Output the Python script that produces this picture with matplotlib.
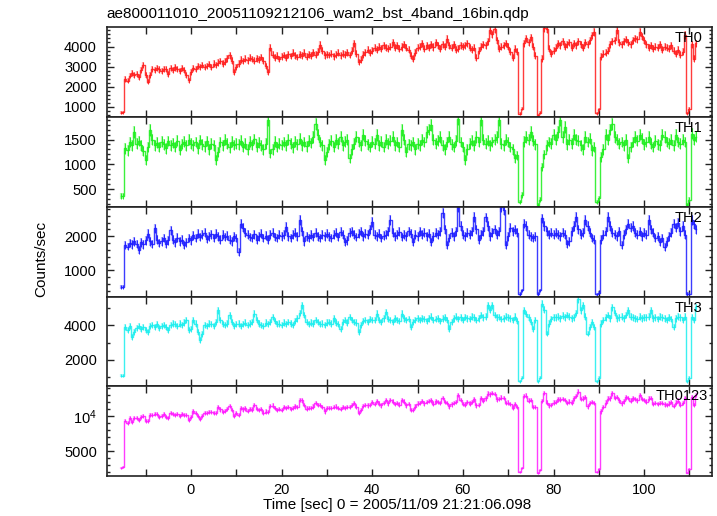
import numpy as np
import matplotlib
matplotlib.use('Agg')
import matplotlib.pyplot as plt
from matplotlib.ticker import MultipleLocator, FixedLocator, FixedFormatter

plt.rcParams['font.family'] = ['Liberation Sans', 'DejaVu Sans']
plt.rcParams['mathtext.fontset'] = 'custom'
plt.rcParams['mathtext.rm'] = 'Liberation Sans'

# bin centres (0.5 s bins) from -15.5 s to 111.5 s
t_start = -15.5
dt = 0.5
# effective exposure per bin used for the Poisson error bars
expo = 0.125

# count rates, one line per 10 s
th0 = [720, 730, 2400, 2310, 2560, 2700, 2580, 2640, 2480, 2850, 3080, 2600,
       2250, 2600, 2880, 2820, 2930, 2860, 2780, 2900, 2870, 2640, 2920, 2850, 2960, 2880, 2790, 2930, 2850, 2600, 2320, 2750,
       2950, 2880, 3020, 2970, 3080, 2990, 3050, 3120, 3000, 3150, 3080, 3200, 3280, 3150, 3250, 3420, 3570, 3300, 2730, 3000,
       3150, 3350, 3280, 3400, 3310, 3450, 3380, 3300, 3420, 3350, 3480, 3300, 3050, 2730, 3950, 3600, 3450, 3550, 3380, 3500,
       3580, 3450, 3620, 3530, 3700, 3560, 3480, 3620, 3550, 3680, 3500, 3610, 3540, 3720, 3600, 3750, 4070, 3800, 3560, 3620,
       3580, 3650, 3520, 3600, 3700, 3560, 3650, 3600, 3720, 3580, 3800, 4150, 3650, 3230, 3350, 3600, 3720, 3850, 3700, 3800,
       3950, 3850, 4000, 3900, 4050, 3950, 3880, 4000, 4200, 3950, 4050, 3900, 3980, 4100, 3950, 3850, 3550, 3400, 3700, 3950,
       4000, 4150, 3900, 4050, 3950, 4100, 3980, 4200, 4050, 3900, 4100, 4000, 4380, 4050, 3950, 4100, 3850, 3900, 4050, 4000,
       4050, 4150, 3950, 3850, 3950, 3450, 3800, 4000, 4100, 4050, 4250, 4800, 4600, 4850, 4300, 3900, 4000, 4050, 4150, 4000,
       3750, 3450, 3900, 3750, 670, 920, 4150, 4400, 4200, 4450, 4000, 3550, 590, 720, 3400, 4900, 4850, 3900, 3650, 3800,
       3950, 4150, 4050, 4250, 4000, 4100, 4200, 3950, 4150, 4050, 4250, 4100, 3950, 4200, 4100, 4300, 4550, 4730, 700, 880,
       3500, 3650, 3700, 3800, 4100, 4250, 4300, 4800, 4200, 4100, 4250, 4350, 4200, 4100, 4300, 4400, 4350, 4730, 4500, 4300,
       4100, 3950, 4050, 3900, 4000, 3950, 4100, 3850, 4000, 3950, 3900, 4050, 3800, 3650, 3850, 3600, 3750, 4560, 700, 900,
       4100, 3400, 4150]

th1 = [365, 370, 1320, 1280, 1450, 1380, 1650, 1420, 1470, 1380, 1260, 1090,
       1350, 1690, 1500, 1380, 1440, 1350, 1460, 1400, 1320, 1470, 1380, 1430, 1350, 1480, 1290, 1410, 1460, 1380, 1500, 1420,
       1380, 1450, 1320, 1490, 1400, 1360, 1470, 1300, 1420, 1380, 1090, 1250, 1450, 1380, 1500, 1420, 1340, 1460, 1390, 1420,
       1400, 1480, 1350, 1420, 1300, 1460, 1390, 1510, 1350, 1440, 1380, 1300, 1420, 1890, 1220, 1300, 1460, 1350, 1420, 1390,
       1450, 1380, 1500, 1420, 1340, 1460, 1400, 1520, 1380, 1450, 1360, 1480, 1430, 1550, 1820, 1600, 1450, 1380, 1090, 1250,
       1400, 1480, 1350, 1500, 1420, 1560, 1380, 1460, 1500, 1120, 1300, 1420, 1560, 1450, 1380, 1600, 1480, 1400, 1350, 1460,
       1420, 1590, 1380, 1460, 1350, 1500, 1420, 1480, 1560, 1380, 1450, 1350, 1690, 1500, 1250, 1400, 1380, 1450, 1300, 1420,
       1380, 1500, 1450, 1650, 1700, 1790, 1500, 1420, 1480, 1550, 1380, 1300, 1450, 1560, 1400, 1350, 1480, 1920, 1450, 1350,
       1090, 1300, 1420, 1480, 1380, 1550, 1450, 1890, 1500, 1420, 1480, 1380, 1450, 1500, 1550, 1890, 1420, 1380, 1500, 1450,
       1350, 1300, 1120, 1180, 250, 390, 1460, 1550, 1500, 1650, 1480, 1400, 190, 290, 950, 1200, 1380, 1450, 1420, 1600,
       1500, 1650, 1890, 1550, 1750, 1400, 1500, 1420, 1600, 1500, 1480, 1380, 1300, 1550, 1450, 1520, 1280, 1350, 250, 320,
       1150, 1300, 1600, 1500, 1700, 1820, 1550, 1500, 1420, 1450, 1380, 1500, 1120, 1350, 1450, 1550, 1480, 1600, 1520, 1400,
       1450, 1550, 1420, 1350, 1480, 1400, 1380, 1600, 1550, 1450, 1420, 1500, 1380, 1600, 1450, 1420, 1500, 1450, 190, 290,
       1620, 1500, 1560]

th2 = [505, 510, 1735, 1700, 1800, 1760, 1850, 1780, 1590, 1820, 1760, 1880,
       2080, 1850, 1780, 2230, 1900, 1800, 1850, 1950, 1780, 1880, 2180, 1900, 1820, 1960, 1850, 1900, 1735, 1820, 1950, 1880,
       2030, 1950, 2080, 1980, 2050, 2100, 1920, 2000, 2060, 1950, 2080, 2000, 1900, 2050, 1980, 2020, 1900, 1850, 2000, 1950,
       1540, 2370, 2250, 2100, 2050, 1980, 1950, 2060, 1900, 2000, 2080, 1950, 2020, 1900, 2050, 2100, 1980, 1950, 2050, 2000,
       2050, 2270, 2000, 1950, 2050, 2100, 2000, 2470, 2150, 1850, 2000, 1950, 2050, 1980, 2100, 2000, 1950, 2050, 2000, 2080,
       2000, 1950, 2050, 2100, 1980, 2130, 2050, 1830, 1880, 2100, 2150, 2050, 1980, 2080, 2150, 2000, 2080, 2050, 2200, 2420,
       2050, 2000, 2080, 1950, 2020, 2050, 2150, 2470, 2100, 2000, 2050, 2130, 1980, 2050, 2000, 2150, 2080, 1830, 2050, 2000,
       2150, 2050, 2100, 2000, 2080, 1830, 2000, 2100, 2050, 2150, 2670, 2200, 1740, 1950, 2100, 2000, 2150, 2850, 2300, 2050,
       2000, 2100, 2050, 2150, 2570, 2200, 1900, 2050, 2150, 2550, 2300, 2000, 2100, 2200, 2050, 2150, 2850, 2760, 1740, 2000,
       2250, 2150, 2200, 2100, 314, 412, 2370, 2300, 2050, 2000, 1950, 2000, 314, 412, 2520, 2300, 2150, 2050, 2100, 2050,
       2100, 2050, 2000, 2100, 2050, 1780, 1850, 2150, 2300, 2570, 2200, 2050, 2100, 2470, 2300, 2100, 1950, 1900, 300, 350,
       1900, 2050, 2150, 2570, 2300, 2100, 2050, 2000, 2150, 1740, 2050, 2200, 2370, 2250, 2300, 2100, 2050, 2150, 2000, 2100,
       2050, 2470, 2200, 2100, 1950, 2000, 1830, 1950, 1690, 1850, 2000, 2100, 2370, 2250, 2400, 2150, 2300, 2050, 314, 320,
       2470, 2350, 2200]

th3 = [1080, 1090, 3900, 3750, 3950, 3330, 3600, 3850, 3950, 3800, 3900, 3750,
       3620, 3950, 4000, 3900, 4050, 3850, 3950, 4000, 3880, 3750, 4000, 4100, 4050, 3950, 4100, 4000, 4150, 4300, 3710, 3800,
       4290, 4100, 3600, 3140, 3500, 4000, 3950, 4100, 4050, 3950, 4200, 4860, 4300, 4050, 4000, 4100, 4570, 4200, 3950, 4050,
       4100, 3950, 4050, 4150, 4000, 4100, 4200, 4670, 4300, 4100, 4000, 3950, 4150, 4050, 4200, 4480, 4250, 4050, 4100, 4000,
       4150, 4050, 4200, 4100, 4000, 4250, 4400, 4700, 5140, 4600, 4200, 4050, 4150, 4100, 4300, 4200, 4050, 4100, 4000, 4150,
       4200, 4100, 4400, 4150, 4050, 3800, 4200, 4300, 4150, 4480, 4300, 4200, 4150, 3620, 4000, 4250, 4300, 4200, 4350, 4300,
       4290, 4670, 4300, 4200, 4400, 4760, 4350, 4300, 4200, 4400, 4300, 4250, 4670, 4400, 4300, 4350, 3900, 4200, 4300, 4400,
       4300, 4400, 4350, 4250, 4400, 4500, 4300, 4350, 4400, 4250, 4380, 4450, 4300, 3810, 4200, 4400, 4500, 4350, 4450, 4300,
       4480, 4400, 4350, 4500, 4450, 4300, 4400, 4600, 4450, 4500, 5140, 4900, 5140, 4600, 4450, 4480, 4350, 4400, 4500, 4450,
       4400, 4300, 4500, 4250, 760, 954, 4860, 4650, 4450, 4200, 3800, 4300, 760, 954, 5240, 4900, 3520, 4100, 4350, 4450,
       4450, 4500, 4400, 4550, 4450, 4600, 4500, 4400, 4450, 4700, 5520, 4860, 5140, 4500, 3520, 3900, 4200, 3900, 760, 954,
       4100, 4300, 4450, 4600, 4400, 5050, 4700, 4400, 4450, 4500, 4400, 4600, 4860, 4500, 4450, 4400, 4350, 4500, 4400, 4450,
       4450, 4500, 4860, 4400, 4450, 4350, 4500, 4450, 4400, 4300, 4450, 4350, 3900, 4400, 4500, 4450, 4300, 4500, 760, 954,
       4480, 4300, 5050]

# the last band is the sum of the four energy bands
th0123 = list(np.array(th0) + np.array(th1) + np.array(th2) + np.array(th3))

labels = ['TH0', 'TH1', 'TH2', 'TH3', 'TH0123']
colors = ['#ff1a1a', '#1aee1a', '#1a1aff', '#1aeeee', '#ff1aff']
ylims = [(500, 4950), (150, 1950), (235, 2862), (474, 5657), (1470, 14230)]
major_ticks = [[1000, 2000, 3000, 4000], [500, 1000, 1500], [1000, 2000], [2000, 4000], [5000, 10000]]
major_labels = [['1000', '2000', '3000', '4000'], ['500', '1000', '1500'], ['1000', '2000'],
                ['2000', '4000'], ['5000', r'$\mathregular{10^4}$']]
minor_step = [200, 100, 200, 1000, 1000]

series = [th0, th1, th2, th3, th0123]
t = t_start + dt * np.arange(len(th0))

fig = plt.figure(figsize=(7.17, 5.16), dpi=100)
gs = fig.add_gridspec(5, 1, left=0.1488, right=0.9926, top=0.947, bottom=0.0775, hspace=0)

for k in range(5):
    ax = fig.add_subplot(gs[k])
    y = np.array(series[k], dtype=float)
    err = np.sqrt(y / expo)
    c = colors[k]
    ax.errorbar(t, y, yerr=err, fmt='none', ecolor=c, elinewidth=1.6, alpha=0.35)
    ax.errorbar(t, y, yerr=err, fmt='none', ecolor=c, elinewidth=0.7, alpha=0.9)
    ax.step(t, y, where='mid', color=c, lw=1.0, alpha=0.85)
    ax.set_xlim(-18.6, 114.9)
    ax.set_ylim(*ylims[k])
    ax.yaxis.set_major_locator(FixedLocator(major_ticks[k]))
    ax.yaxis.set_major_formatter(FixedFormatter(major_labels[k]))
    ax.yaxis.set_minor_locator(MultipleLocator(minor_step[k]))
    ax.xaxis.set_major_locator(MultipleLocator(20))
    ax.xaxis.set_minor_locator(MultipleLocator(10))
    ax.tick_params(which='both', direction='in', top=True, right=True, width=1, colors='#222222')
    ax.tick_params(axis='y', which='major', length=5, labelsize=10.5, pad=7, labelcolor='black')
    ax.tick_params(axis='y', which='minor', length=2.5)
    ax.tick_params(axis='x', which='both', length=5, labelsize=10.5, pad=5, labelcolor='black')
    for sp in ax.spines.values():
        sp.set_linewidth(1.2)
        sp.set_color('#222222')
    if k < 4:
        ax.tick_params(axis='x', labelbottom=False)
    if k == 4:
        ax.text(0.9944, 0.888, labels[k], transform=ax.transAxes, ha='right', va='center', fontsize=10.5)
    else:
        ax.text(0.9845, 0.877, labels[k], transform=ax.transAxes, ha='right', va='center', fontsize=10.5)

fig.text(0.1488, 1 - 18 / 516, 'ae800011010_20051109212106_wam2_bst_4band_16bin.qdp',
         ha='left', va='baseline', fontsize=11)
fig.text(397.5 / 717, 1 - 505 / 516, 'Time [sec] 0 = 2005/11/09 21:21:06.098',
         ha='center', va='center', fontsize=11)
fig.text(41.5 / 717, 1 - 258.5 / 516, 'Counts/sec', rotation=90, ha='center', va='center', fontsize=11)

fig.savefig('out.png', dpi=100)
